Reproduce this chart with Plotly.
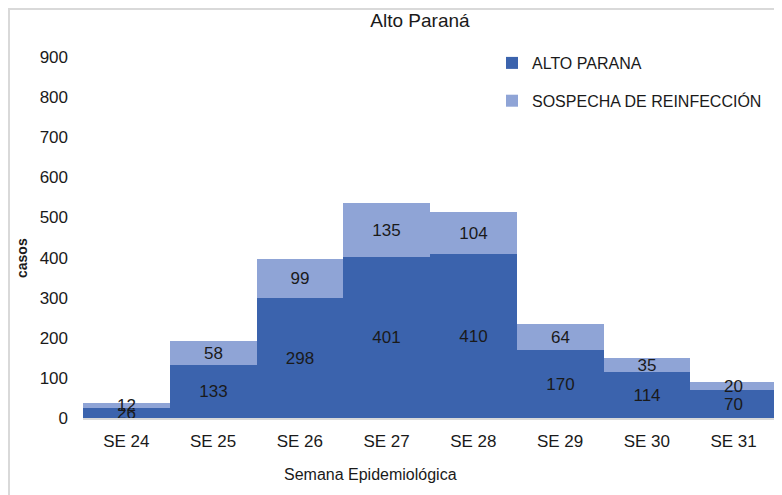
import plotly.graph_objects as go

categories = ["SE 24", "SE 25", "SE 26", "SE 27", "SE 28", "SE 29", "SE 30", "SE 31"]
alto_parana = [26, 133, 298, 401, 410, 170, 114, 70]
sospecha = [12, 58, 99, 135, 104, 64, 35, 20]
y_ticks = [0, 100, 200, 300, 400, 500, 600, 700, 800, 900]

FONT = "Liberation Sans, Arial, sans-serif"
DARK = "#3B63AD"
LIGHT = "#8FA4D6"

# page has 8px body margin; figure sized to fill the rest of the 782x495 window
OFF = 8
W, H = 782 - OFF, 495 - OFF
ML, MR, MT, MB = 83 - OFF, 5, 57 - OFF, 77
PW = W - ML - MR
PH = H - MT - MB

def px_x(p):  # page pixel -> paper x
    return (p - OFF - ML) / PW

def px_y(p):  # page pixel -> paper y
    return (H - MB - (p - OFF)) / PH

fig = go.Figure()
fig.add_trace(go.Bar(
    x=categories, y=alto_parana, name="ALTO PARANA",
    marker=dict(color=DARK, line=dict(width=0)),
    text=alto_parana, textposition="inside", insidetextanchor="middle",
    textangle=0, constraintext="none",
    textfont=dict(family=FONT, size=17, color="#1a1a1a"),
    legendgroup="a",
))
fig.add_trace(go.Bar(
    x=categories, y=sospecha, name="SOSPECHA DE REINFECCIÓN",
    marker=dict(color=LIGHT, line=dict(width=0)),
    text=sospecha, textposition="inside", insidetextanchor="middle",
    textangle=0, constraintext="none",
    textfont=dict(family=FONT, size=17, color="#1a1a1a"),
    legendgroup="b",
))

fig.update_layout(
    width=W, height=H,
    margin=dict(l=ML, r=MR, t=MT, b=MB),
    barmode="stack", bargap=0,
    plot_bgcolor="white", paper_bgcolor="white",
    font=dict(family=FONT, size=16, color="#1a1a1a"),
    title=dict(text="Alto Paraná", x=px_x(420), xref="paper", xanchor="center",
               y=1 - (20 - OFF) / H, yref="container", yanchor="middle",
               font=dict(family=FONT, size=19, color="#1a1a1a")),
    showlegend=True,
    legend=dict(x=px_x(492), y=px_y(46), xanchor="left", yanchor="top",
                traceorder="grouped", tracegroupgap=14,
                font=dict(family=FONT, size=16, color="#1a1a1a"),
                bgcolor="rgba(0,0,0,0)"),
    xaxis=dict(showline=True, linecolor="#D9D9D9", linewidth=2, ticks="",
               showgrid=False, ticklabelstandoff=7,
               tickfont=dict(family=FONT, size=17, color="#1a1a1a")),
    yaxis=dict(range=[0, 900], tickvals=y_ticks, showgrid=False, showline=False,
               zeroline=False, ticks="", ticklabelstandoff=14,
               tickfont=dict(family=FONT, size=17, color="#1a1a1a")),
    annotations=[
        dict(text="Semana Epidemiológica", xref="paper", yref="paper",
             x=px_x(370), y=px_y(474), xanchor="center", yanchor="middle",
             showarrow=False, font=dict(family=FONT, size=16, color="#1a1a1a")),
        dict(text="<b>casos</b>", xref="paper", yref="paper",
             x=px_x(22), y=px_y(258), xanchor="center", yanchor="middle",
             textangle=-90, showarrow=False,
             font=dict(family=FONT, size=14, color="#1a1a1a")),
    ],
    shapes=[
        dict(type="rect", xref="paper", yref="paper",
             x0=px_x(OFF + 1), x1=px_x(800), y0=px_y(520), y1=px_y(OFF + 1),
             line=dict(color="#D9D9D9", width=2), fillcolor="rgba(0,0,0,0)", layer="below"),
    ],
)

fig.write_html("out.html")
